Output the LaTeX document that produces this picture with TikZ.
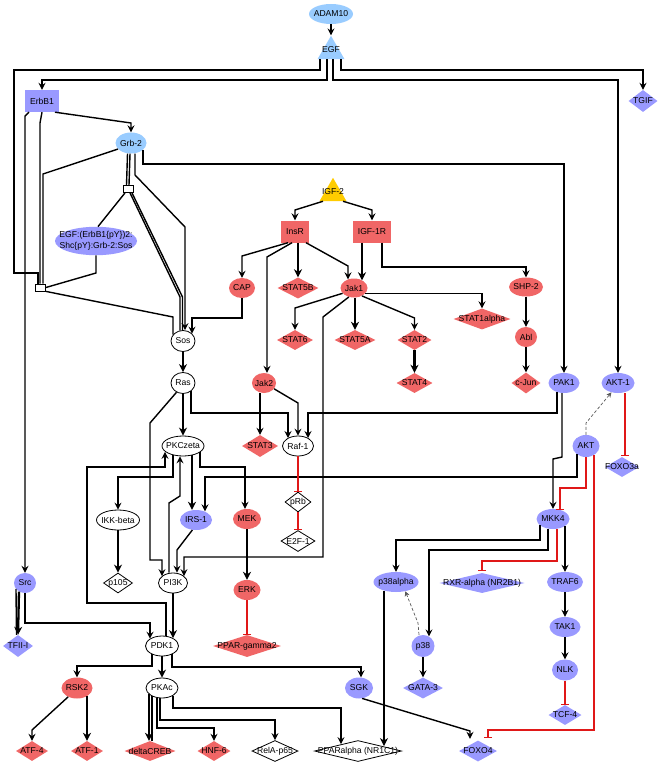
\documentclass[tikz,border=0pt]{standalone}
\usepackage{fontspec}
\setmainfont{Liberation Sans}
\usetikzlibrary{shapes.geometric,arrows.meta}
\definecolor{lblue}{HTML}{99CCFF}
\definecolor{peri}{HTML}{9999FF}
\definecolor{salm}{HTML}{F06666}
\definecolor{gold}{HTML}{FFCC00}
\definecolor{inhred}{HTML}{E01818}
\newcommand\NodeTxt[1]{\makebox[0pt]{#1}}
\begin{document}
\begin{tikzpicture}[x=1pt,y=-1pt, font=\fontsize{8.6}{9.8}\selectfont,
 el/.style={ellipse,inner sep=0pt,minimum width=30pt,minimum height=20pt},
 dm/.style={diamond,inner sep=0pt,minimum width=34pt,minimum height=20pt},
 bx/.style={rectangle,inner sep=0pt,minimum width=30pt,minimum height=22pt},
 tri/.style={regular polygon,regular polygon sides=3,inner sep=0pt,minimum size=31pt},
 cx/.style={rectangle,draw,fill=white,line width=0.8pt,inner sep=0pt,minimum width=10pt,minimum height=7pt},
 lb/.style={fill=lblue}, pb/.style={fill=peri}, rd/.style={fill=salm}, yl/.style={fill=gold},
 wt/.style={draw=black,fill=white,line width=0.8pt},
 ln/.style={line width=1.4pt},
 thk/.style={line width=2.3pt},
 ar/.style={ln,-{Stealth[length=7pt,width=7pt,inset=2.5pt]}},
 art/.style={thk,-{Stealth[length=8pt,width=8pt,inset=2.5pt]}},
 inh/.style={draw=inhred,line width=2pt,-{Bar[width=8pt,line width=1pt]}},
 dsh/.style={draw=black!65,dash pattern=on 3pt off 2pt,line width=0.7pt,-{Stealth[length=5pt,width=5pt]}},
 egl/.style={line width=1.8pt}
]
\fill[white] (0,0) rectangle (661,765);
\useasboundingbox (0,0) rectangle (661,765);

% ---------- nodes ----------
\node[el,lb,minimum width=44pt] (adam10) at (331,14) {\NodeTxt{ADAM10}};
\node[tri,lb] (egf) at (331,51.3) {\NodeTxt{\raisebox{3pt}{EGF}}};
\node[bx,pb,minimum width=34pt] (erbb1) at (42,101) {\NodeTxt{ErbB1}};
\node[dm,pb,minimum width=29pt,minimum height=22pt] (tgif) at (643,101) {\NodeTxt{TGIF}};
\node[el,lb,minimum width=31pt,minimum height=21pt] (grb2) at (131,143) {\NodeTxt{Grb-2}};
\node[cx] (c1) at (128,189) {};
\node[cx] (c2) at (40.5,287.5) {};
\node[el,pb,minimum width=82pt,minimum height=24pt] (cplx) at (96,241) {\NodeTxt{\begin{tabular}{@{}c@{}}EGF:(ErbB1\{pY\})2:\\[0.5pt]Shc\{pY\}:Grb-2:Sos\end{tabular}}};
\node[tri,yl] (igf2) at (333,193.3) {\NodeTxt{\raisebox{3pt}{IGF-2}}};
\node[bx,rd,minimum width=28pt] (insr) at (295,231.5) {\NodeTxt{InsR}};
\node[bx,rd,minimum width=38pt] (igf1r) at (372,231.5) {\NodeTxt{IGF-1R}};
\node[el,rd,minimum width=26pt] (cap) at (242,288) {\NodeTxt{CAP}};
\node[dm,rd,minimum width=41pt,minimum height=21pt] (stat5b) at (298,288) {\NodeTxt{STAT5B}};
\node[el,rd,minimum width=27pt,minimum height=19pt] (jak1) at (354,288) {\NodeTxt{Jak1}};
\node[el,rd,minimum width=34pt,minimum height=19pt] (shp2) at (526,287) {\NodeTxt{SHP-2}};
\node[dm,rd,minimum width=57pt,minimum height=21pt] (stat1a) at (482,319) {\NodeTxt{STAT1alpha}};
\node[dm,rd,minimum width=36pt] (stat6) at (295,340) {\NodeTxt{STAT6}};
\node[dm,rd,minimum width=41pt] (stat5a) at (355,340) {\NodeTxt{STAT5A}};
\node[dm,rd,minimum width=34pt] (stat2) at (414.5,340) {\NodeTxt{STAT2}};
\node[el,rd,minimum width=22pt] (abl) at (526,337) {\NodeTxt{Abl}};
\node[el,wt,minimum width=24pt,minimum height=21pt] (sos) at (183,341) {\NodeTxt{Sos}};
\node[el,wt,minimum width=24pt,minimum height=21pt] (ras) at (183,383) {\NodeTxt{Ras}};
\node[el,rd,minimum width=24pt] (jak2) at (264,383) {\NodeTxt{Jak2}};
\node[dm,rd,minimum width=36pt] (stat4) at (414.5,383) {\NodeTxt{STAT4}};
\node[dm,rd,minimum width=29pt,minimum height=21pt] (cjun) at (526,383) {\NodeTxt{c-Jun}};
\node[el,pb,minimum width=31pt] (pak1) at (564,383) {\NodeTxt{PAK1}};
\node[el,pb,minimum width=33pt] (akt1) at (618,383) {\NodeTxt{AKT-1}};
\node[el,wt,minimum width=42pt] (pkcz) at (183,446) {\NodeTxt{PKCzeta}};
\node[dm,rd,minimum width=36pt,minimum height=22pt] (stat3) at (260,446) {\NodeTxt{STAT3}};
\node[el,wt,minimum width=31pt] (raf1) at (298,446) {\NodeTxt{Raf-1}};
\node[el,pb,minimum width=27pt,minimum height=22pt] (akt) at (586,446) {\NodeTxt{AKT}};
\node[dm,pb,minimum width=34pt] (foxo3a) at (622,467) {\NodeTxt{FOXO3a}};
\node[dm,wt,minimum width=26pt] (prb) at (298,502) {\NodeTxt{pRb}};
\node[el,wt,minimum width=43pt] (ikkb) at (118,520) {\NodeTxt{IKK-beta}};
\node[el,pb,minimum width=32pt] (irs1) at (196,520) {\NodeTxt{IRS-1}};
\node[el,rd,minimum width=28pt] (mek) at (247,519) {\NodeTxt{MEK}};
\node[el,pb,minimum width=33pt] (mkk4) at (553,519) {\NodeTxt{MKK4}};
\node[dm,wt,minimum width=34pt,minimum height=21pt] (e2f1) at (298,541) {\NodeTxt{E2F-1}};
\node[el,pb,minimum width=45pt] (p38a) at (396,582) {\NodeTxt{p38alpha}};
\node[dm,pb,minimum width=85pt] (rxra) at (482,583) {\NodeTxt{RXR-alpha (NR2B1)}};
\node[el,pb,minimum width=36pt] (traf6) at (565,582) {\NodeTxt{TRAF6}};
\node[dm,wt,minimum width=29pt] (p105) at (118,583) {\NodeTxt{p105}};
\node[el,wt,minimum width=29pt] (pi3k) at (173,583) {\NodeTxt{PI3K}};
\node[el,pb,minimum width=22pt] (src) at (25,583) {\NodeTxt{Src}};
\node[el,rd,minimum width=27pt] (erk) at (247,590) {\NodeTxt{ERK}};
\node[el,pb,minimum width=31pt] (tak1) at (565,627) {\NodeTxt{TAK1}};
\node[el,pb,minimum width=23pt,minimum height=22pt] (p38) at (423,646) {\NodeTxt{p38}};
\node[dm,rd,minimum width=68pt,minimum height=22pt] (ppg2) at (247,646) {\NodeTxt{PPAR-gamma2}};
\node[dm,pb,minimum width=30pt,minimum height=22pt] (tfii) at (18,646) {\NodeTxt{TFII-I}};
\node[el,wt,minimum width=33pt] (pdk1) at (162,646) {\NodeTxt{PDK1}};
\node[el,pb,minimum width=26pt,minimum height=21pt] (nlk) at (565,670) {\NodeTxt{NLK}};
\node[dm,pb,minimum width=40pt,minimum height=21pt] (gata3) at (423,688) {\NodeTxt{GATA-3}};
\node[el,rd,minimum width=31pt,minimum height=21pt] (rsk2) at (77,688) {\NodeTxt{RSK2}};
\node[el,wt,minimum width=32pt] (pkac) at (162,688) {\NodeTxt{PKAc}};
\node[el,pb,minimum width=28pt,minimum height=21pt] (sgk) at (359,688) {\NodeTxt{SGK}};
\node[dm,pb,minimum width=33pt] (tcf4) at (565,715) {\NodeTxt{TCF-4}};
\node[dm,rd,minimum width=32pt] (atf4) at (32,751) {\NodeTxt{ATF-4}};
\node[dm,rd,minimum width=32pt] (atf1) at (87,751) {\NodeTxt{ATF-1}};
\node[dm,rd,minimum width=51pt] (dcreb) at (150,751) {\NodeTxt{deltaCREB}};
\node[dm,rd,minimum width=33pt] (hnf6) at (214,751) {\NodeTxt{HNF-6}};
\node[dm,wt,minimum width=46pt,minimum height=21pt] (rela) at (275,751) {\NodeTxt{RelA-p65}};
\node[dm,wt,minimum width=87pt,minimum height=21pt] (ppara) at (358,751) {\NodeTxt{PPARalpha (NR1C1)}};
\node[dm,pb,minimum width=38pt,minimum height=21pt] (foxo4) at (478,751) {\NodeTxt{FOXO4}};

% ---------- connectors ----------
% EGF
\draw[ar] (adam10.south) -- (egf.north);
\draw[ar,egl] ([xshift=-4pt]egf.south) -- (327,80) -| (erbb1.north);
\draw[ln,egl] ([xshift=-11pt]egf.south) -- (320,70) -- (14,70) -- (14,273) -| ([xshift=-2.5pt]c2.north);
\draw[ar,egl] ([xshift=2pt]egf.south) -- (333,80) -| (akt1.north);
\draw[ar,egl] ([xshift=10pt]egf.south) -- (341,70) -| (tgif.north);
% ErbB1 / Grb-2
\draw[ar] ([xshift=13pt]erbb1.south) -- (131,123) -- (grb2.north);
\draw[ar] ([xshift=-13pt]erbb1.south) -- (25,116) -- (src.north);
\draw[ln] (erbb1.south) -- (40,123) -- ([xshift=-0.5pt]c2.north);
\draw[ln] (grb2.205) -- (43,174) -- ([xshift=2.5pt]c2.north);
\draw[ln] ([xshift=-3.5pt]grb2.south) -- ([xshift=-1.5pt]c1.north);
\draw[ln] ([xshift=-1pt]grb2.south) -- ([xshift=1pt]c1.north);
\draw[ar] ([xshift=4pt]grb2.south) -- (135,175) -- (185,227) -- ([xshift=2pt]sos.north);
\draw[ar] ([xshift=12pt,yshift=4pt]grb2.south) -- (143,164) -| (pak1.north);
% complexes
\draw[ln] ([xshift=-3pt]c1.south) -- ([xshift=2pt]cplx.north);
\draw[ln] ([xshift=2pt]c1.south) -- (180,297) -- ([xshift=-3pt,yshift=-0.5pt]sos.north);
\draw[ln] ([xshift=4pt]c1.south) -- (182.5,297) -- ([xshift=-0.5pt]sos.north);
\draw[ln] (c2.east) -- (96,273) -- (cplx.south);
\draw[ln] (c2.south east) -- (173,317) -- ([xshift=-10pt,yshift=-4.5pt]sos.north);
% IGF
\draw[ar] ([xshift=-10pt]igf2.south) -- (295,210) -- (insr.north);
\draw[ar] ([xshift=10pt]igf2.south) -- (372,210) -- (igf1r.north);
\draw[ar] ([xshift=-7pt]insr.south) -- (242,256) -- (cap.north);
\draw[ar] ([xshift=-3pt]insr.south) -- (267,257) -- ([xshift=3pt]jak2.north);
\draw[art] ([xshift=3pt]insr.south) -- (stat5b.north);
\draw[ar] ([xshift=11pt]insr.south) -- (348,266) -- ([xshift=-6pt,yshift=-1pt]jak1.north);
\draw[art] ([xshift=-10pt]igf1r.south) -- ([xshift=8pt,yshift=-2pt]jak1.north);
\draw[ar] ([xshift=10pt]igf1r.south) -- (382,267) -| (shp2.north);
\draw[ar] (cap.south) -- (242,318) -| ([xshift=9pt,yshift=-3.5pt]sos.north);
% Jak1
\draw[ar] (jak1.205) -- (295,308) -- (stat6.north);
\draw[art] ([xshift=1pt]jak1.south) -- (stat5a.north);
\draw[ar] (jak1.315) -- (414.5,318) -- (stat2.north);
\draw[ar] (jak1.335) -| (stat1a.north);
\draw[ar] (jak1.240) -- (323,317) -- (323,557) -| ([xshift=11pt,yshift=-3.5pt]pi3k.north);
\draw[art] (stat2.south) -- (stat4.north);
\draw[ar] (shp2.south) -- (abl.north);
\draw[ar] (abl.south) -- (cjun.north);
% Sos / Ras / Raf
\draw[art] (sos.south) -- (ras.north);
\draw[art] (ras.south) -- (pkcz.north);
\draw[ar] ([xshift=8pt,yshift=2.7pt]ras.south) -- (191,413) -| ([xshift=-10pt,yshift=-2.4pt]raf1.north);
\draw[ar] (jak2.330) -- (298,403) -- (raf1.north);
\draw[ar] ([xshift=-7pt,yshift=1pt]pak1.south) -- (557,413) -| ([xshift=10pt,yshift=-2.4pt]raf1.north);
\draw[ar] ([xshift=-4pt]jak2.south) -- (stat3.north);
% PKCzeta
\draw[ar] ([xshift=-10pt,yshift=1.2pt]pkcz.south) -- (173,477) -| (ikkb.north);
\draw[art] ([xshift=9pt,yshift=1pt]pkcz.south) -- ([xshift=-4pt]irs1.north);
\draw[ar] ([xshift=17pt,yshift=4pt]pkcz.south) -- (200,467) -| ([xshift=-2pt]mek.north);
\draw[ar] ([xshift=4pt]pdk1.north) -- (166,603) -- (87,603) -- (87,467) -| ([xshift=-18pt,yshift=4.5pt]pkcz.south);
\draw[ar] ([xshift=-4pt]pi3k.north) -- (169,503) -- (180,496) -- ([xshift=-3pt]pkcz.south);
\draw[ar] (ras.235) -- (150,423) -- (150,560) -| ([xshift=-11pt,yshift=-3.5pt]pi3k.north);
\draw[ar] (irs1.250) -- (177,550) -- ([xshift=4pt]pi3k.north);
\draw[ar] ([xshift=-9pt,yshift=2.8pt]akt.south) -- (577,477) -| ([xshift=9pt,yshift=-1.5pt]irs1.north);
% AKT
\draw[inh] (akt.south) -- (586,488) -- (560,488) -- ([xshift=7pt,yshift=-1pt]mkk4.north);
\draw[inh] ([xshift=8pt,yshift=2pt]akt.south) -- (594,730) -| ([xshift=10pt,yshift=2pt]foxo4.north);
\draw[dsh] (akt.north) -- (586,423) -- (akt1.235);
\draw[inh] ([xshift=7pt]akt1.south) -- ([xshift=3pt,yshift=1pt]foxo3a.north);
% MKK4
\draw[ar] ([xshift=-2pt]pak1.south) -- (562,457) -- (553,459) -- (mkk4.north);
\draw[ar] ([xshift=-13pt,yshift=3.8pt]mkk4.south) -- (540,540) -| (p38a.north);
\draw[ar] ([xshift=-5pt,yshift=0.5pt]mkk4.south) -- (548,550) -| ([xshift=6pt,yshift=-1.6pt]p38.north);
\draw[inh] ([xshift=4pt]mkk4.south) -- (557,561) -| ([yshift=2pt]rxra.north);
\draw[ar] ([xshift=12pt,yshift=3pt]mkk4.south) -- (traf6.north);
\draw[ar] (traf6.south) -- (tak1.north);
\draw[ar] (tak1.south) -- (nlk.north);
\draw[inh] (nlk.south) -- (tcf4.north);
\draw[ar] (p38.south) -- (gata3.north);
\draw[dsh] ([xshift=-4pt]p38.north) -- (418,623) -- (p38a.315);
\draw[art] ([xshift=-12pt,yshift=1.5pt]p38a.south) -- ([xshift=26pt,yshift=-6pt]ppara.north);
% MEK / Raf / IKK
\draw[art] (mek.south) -- (erk.north);
\draw[inh] (erk.south) -- (ppg2.north);
\draw[inh] (raf1.south) -- (prb.north);
\draw[inh] (prb.south) -- (e2f1.north);
\draw[art] (ikkb.south) -- (p105.north);
% PI3K / PDK1
\draw[art] (pi3k.south) -- ([xshift=11pt,yshift=-2.5pt]pdk1.north);
\draw[ln] ([xshift=-9pt,yshift=4.3pt]src.south) -- ([xshift=-1.5pt]tfii.north);
\draw[art] ([xshift=-6pt,yshift=1.6pt]src.south) -- (tfii.north);
\draw[ar] (src.south) -- (25,623) -| ([xshift=-12pt,yshift=-3.1pt]pdk1.north);
\draw[ar] ([xshift=-10pt,yshift=2pt]pdk1.south) -- (152,666) -| (rsk2.north);
\draw[art] (pdk1.south) -- (pkac.north);
\draw[ar] ([xshift=10pt,yshift=2pt]pdk1.south) -- (172,667) -| ([xshift=2pt]sgk.north);
\draw[ar] (rsk2.225) -- (32,730) -- (atf4.north);
\draw[art] ([xshift=10pt,yshift=2.5pt]rsk2.south) -- (atf1.north);
\draw[ln] ([xshift=-10pt,yshift=2.2pt]pkac.south) -- ([xshift=2pt]dcreb.north);
\draw[art] ([xshift=-13pt,yshift=4.2pt]pkac.south) -- ([xshift=-1pt]dcreb.north);
\draw[ar] ([xshift=-5pt]pkac.south) -- (157,728) -| (hnf6.north);
\draw[ar] ([xshift=-2pt]pkac.south) -- (160,720) -| (rela.north);
\draw[ar] ([xshift=11pt,yshift=2.5pt]pkac.south) -- (173,708) -| ([xshift=-17pt,yshift=-4pt]ppara.north);
\draw[ar] (sgk.287) -- (470,731) -- ([xshift=-8pt,yshift=1.5pt]foxo4.north);
\end{tikzpicture}
\end{document}
